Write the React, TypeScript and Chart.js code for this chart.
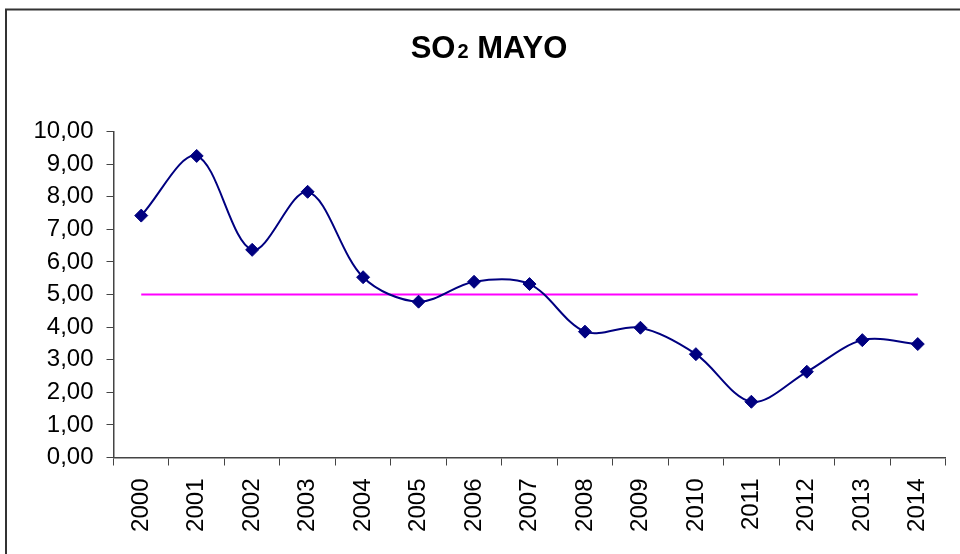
import React, { useEffect, useRef } from "react";
import { Chart, registerables } from "chart.js";

Chart.register(...registerables);

const years = ["2000","2001","2002","2003","2004","2005","2006","2007","2008","2009","2010","2011","2012","2013","2014"];
const so2Values = [7.42, 9.25, 6.37, 8.15, 5.53, 4.78, 5.39, 5.32, 3.86, 3.98, 3.17, 1.71, 2.63, 3.60, 3.48];
const limitValues = [5, 5, 5, 5, 5, 5, 5, 5, 5, 5, 5, 5, 5, 5, 5];
const titleMain = "SO";
const titleSub = "2";
const titleRest = " MAYO";

const FONT = "'Liberation Sans', Arial, sans-serif";

const framePlugin = {
  id: "frameAndTitle",
  afterDraw(chart: any) {
    const ctx = chart.ctx;
    ctx.save();
    ctx.strokeStyle = "#333";
    ctx.lineWidth = 2;
    ctx.beginPath();
    ctx.moveTo(6, 554);
    ctx.lineTo(6, 9.5);
    ctx.lineTo(960, 9.5);
    ctx.stroke();
    ctx.fillStyle = "#000";
    ctx.textBaseline = "alphabetic";
    ctx.textAlign = "left";
    const bigFont = "bold 31px " + FONT;
    const smallFont = "bold 20px " + FONT;
    ctx.font = bigFont;
    const w1 = ctx.measureText(titleMain).width;
    const w3 = ctx.measureText(titleRest).width;
    ctx.font = smallFont;
    const w2 = ctx.measureText(titleSub).width;
    const gap = 2;
    const total = w1 + gap + w2 + w3;
    let x = 489 - total / 2;
    const y = 58;
    ctx.font = bigFont;
    ctx.fillText(titleMain, x, y);
    x += w1 + gap;
    ctx.font = smallFont;
    ctx.fillText(titleSub, x, y);
    x += w2;
    ctx.font = bigFont;
    ctx.fillText(titleRest, x, y);
    ctx.restore();
  },
};

export default function App() {
  const ref = useRef<HTMLCanvasElement>(null);
  useEffect(() => {
    const canvas = ref.current;
    if (!canvas) return;
    const chart = new Chart(canvas, {
      type: "line",
      data: {
        labels: years,
        datasets: [
          {
            label: "SO2",
            data: so2Values,
            borderColor: "#000080",
            backgroundColor: "#000080",
            borderWidth: 2,
            tension: 0.33,
            pointStyle: "rectRot",
            pointRadius: 6.5,
            pointBorderWidth: 1,
            pointBackgroundColor: "#000080",
            pointBorderColor: "#000080",
            order: 1,
          },
          {
            label: "Límite",
            data: limitValues,
            borderColor: "#FF00FF",
            borderWidth: 2,
            pointRadius: 0,
            tension: 0,
            order: 2,
          },
        ],
      },
      options: {
        responsive: false,
        animation: false,
        devicePixelRatio: 1,
        layout: { padding: { top: 131.5, right: 13, bottom: 0, left: 0 } },
        plugins: {
          legend: { display: false },
          title: { display: false },
          tooltip: { enabled: false },
        },
        scales: {
          x: {
            type: "category",
            offset: true,
            afterFit: (scale: any) => { scale.height = 96.5; },
            grid: {
              offset: true,
              drawOnChartArea: false,
              drawTicks: true,
              tickLength: 8,
              color: "#444",
            },
            border: { display: true, color: "#444", width: 1.5 },
            ticks: {
              autoSkip: false,
              minRotation: 90,
              maxRotation: 90,
              padding: 13,
              color: "#000",
              font: { family: FONT, size: 24 },
            },
          },
          y: {
            min: 0,
            max: 10,
            afterFit: (scale: any) => { scale.width = 113.5; },
            grid: {
              drawOnChartArea: false,
              drawTicks: true,
              tickLength: 7,
              color: "#444",
            },
            border: { display: true, color: "#444", width: 1.5 },
            ticks: {
              stepSize: 1,
              padding: 13,
              color: "#000",
              font: { family: FONT, size: 24 },
              callback: (v: any) => Number(v).toFixed(2).replace(".", ","),
            },
          },
        },
      },
      plugins: [framePlugin],
    });
    return () => chart.destroy();
  }, []);
  return (
    <div style={{ position: "absolute", left: 0, top: 0, width: 960, height: 554, background: "#fff" }}>
      <canvas ref={ref} width={960} height={554} style={{ display: "block" }} />
    </div>
  );
}
